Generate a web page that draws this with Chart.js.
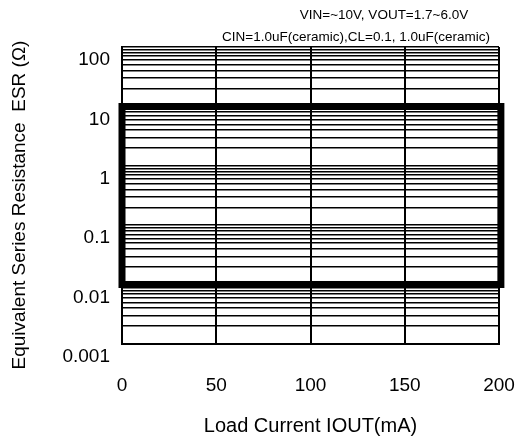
<!DOCTYPE html>
<html>
<head>
<meta charset="utf-8">
<script src="https://cdn.jsdelivr.net/npm/chart.js@4/dist/chart.umd.min.js"></script>
<style>
  body { margin: 0; background: #fff; }
  #wrap { width: 531px; height: 440px; }
</style>
</head>
<body>
<div id="wrap"><canvas id="esr" width="531" height="440"></canvas></div>
<script>
// stable region boundary (load current in mA, ESR in ohm)
const boundaryCurrent = [0, 0, 201, 201, 0];
const boundaryEsr = [0.01, 10, 10, 0.01, 0.01];

const xTicks = [0, 50, 100, 150, 200];
const yTickLabels = ['0.001', '0.01', '0.1', '1', '10', '100'];

const noteLines = ['VIN=~10V, VOUT=1.7~6.0V', 'CIN=1.0uF(ceramic),CL=0.1, 1.0uF(ceramic)'];
const yTitle = 'Equivalent Series Resistance  ESR (Ω)';

const FONT = "'Liberation Sans', Arial, sans-serif";

// condition text above the plot and the y title (sits a bit below centre in the original)
const notes = {
    id: 'notes',
    afterDraw(chart) {
        const ctx = chart.ctx;
        ctx.save();
        ctx.fillStyle = '#000';
        ctx.font = '13.5px ' + FONT;
        ctx.textAlign = 'center';
        ctx.textBaseline = 'middle';
        ctx.fillText(noteLines[0], 384, 15);
        ctx.fillText(noteLines[1], 356, 37);
        ctx.translate(20, 205);
        ctx.rotate(-Math.PI / 2);
        ctx.font = '19px ' + FONT;
        ctx.fillText(yTitle, 0, 0);
        ctx.restore();
    }
};

const points = boundaryCurrent.map(function(x, i) { return {x: x, y: boundaryEsr[i]}; });

new Chart(document.getElementById('esr').getContext('2d'), {
    type: 'line',
    data: {
        datasets: [{
            data: points,
            borderColor: '#000',
            borderWidth: 7,
            pointRadius: 0,
            tension: 0,
            clip: false,
            borderJoinStyle: 'miter',
            borderCapStyle: 'square'
        }]
    },
    options: {
        responsive: false,
        animation: false,
        layout: { padding: { left: 0, top: 47, right: 32, bottom: 0 } },
        plugins: {
            legend: { display: false },
            tooltip: { enabled: false }
        },
        scales: {
            x: {
                type: 'linear',
                min: xTicks[0],
                max: xTicks[xTicks.length - 1],
                afterFit: function(s) {
                    s.height = 96;
                    s.paddingLeft = 0;
                    s.paddingRight = 0;
                },
                grid: { color: '#000', lineWidth: 2, drawTicks: false },
                border: { display: true, color: '#000', width: 2 },
                ticks: {
                    stepSize: 50,
                    padding: 30,
                    color: '#000',
                    font: { family: FONT, size: 19 }
                },
                title: {
                    display: true,
                    text: 'Load Current IOUT(mA)',
                    color: '#000',
                    font: { family: FONT, size: 20 },
                    padding: { top: 0, bottom: 2 }
                }
            },
            y: {
                type: 'logarithmic',
                min: 0.001,
                max: 100,
                afterFit: function(s) {
                    s.width = 122;
                    s.paddingTop = 0;
                    s.paddingBottom = 0;
                },
                afterBuildTicks: function(s) {
                    // drop the 1.5 x 10^n minor ticks
                    s.ticks = s.ticks.filter(function(t) {
                        const m = t.value / Math.pow(10, Math.floor(Math.log10(t.value) + 1e-9));
                        return Math.abs(m - 1.5) > 0.01;
                    });
                },
                grid: { color: '#000', lineWidth: 1.5, drawTicks: false },
                border: { display: true, color: '#000', width: 2 },
                ticks: {
                    autoSkip: false,
                    padding: 12,
                    labelOffset: 13,
                    color: '#000',
                    font: { family: FONT, size: 19 },
                    callback: function(v) {
                        const s = String(+v.toPrecision(6));
                        return yTickLabels.indexOf(s) >= 0 ? s : '';
                    }
                },
                title: { display: false }
            }
        }
    },
    plugins: [notes]
});
</script>
</body>
</html>
